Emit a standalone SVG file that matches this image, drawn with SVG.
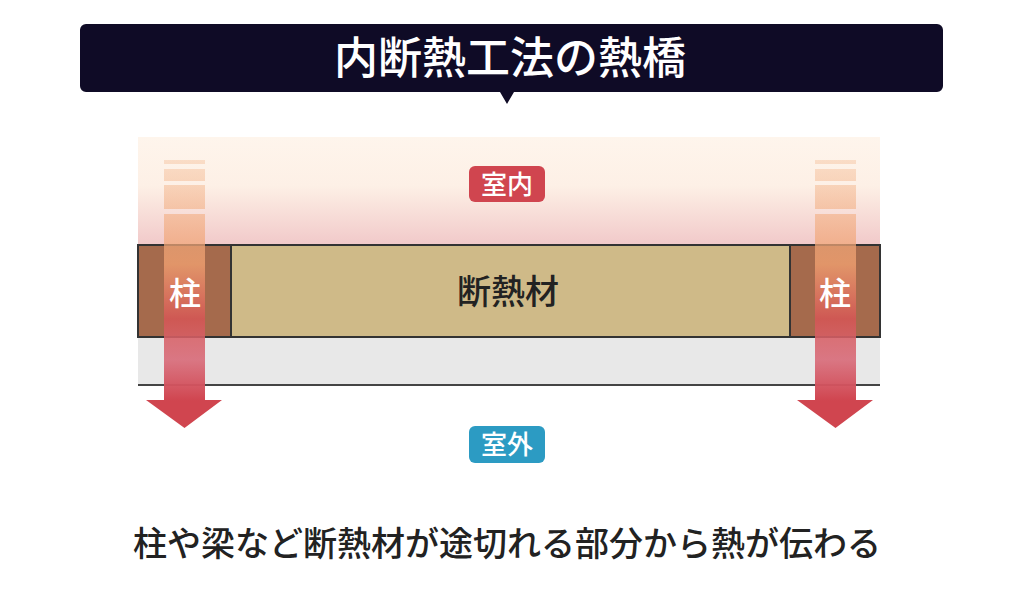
<svg xmlns="http://www.w3.org/2000/svg" width="1024" height="597" viewBox="0 0 1024 597">
<style>
.t{font-family:"Noto Sans CJK JP",sans-serif;font-weight:500}
.w{fill:#fff}
</style>
<defs>
<linearGradient id="bg" x1="0" y1="0" x2="0" y2="1">
<stop offset="0" stop-color="#fef5ec"/><stop offset="0.45" stop-color="#fdf0e6"/><stop offset="1" stop-color="#f1c9c9"/>
</linearGradient>
<linearGradient id="ar" gradientUnits="userSpaceOnUse" x1="0" y1="155" x2="0" y2="428">
<stop offset="0" stop-color="#f5bf98" stop-opacity="0.4"/><stop offset="0.4" stop-color="#f0a070" stop-opacity="0.8"/><stop offset="0.6" stop-color="#d65555" stop-opacity="0.85"/><stop offset="0.75" stop-color="#d86a78" stop-opacity="0.9"/><stop offset="0.9" stop-color="#d0454f"/><stop offset="1" stop-color="#d0454f"/>
</linearGradient>
<g id="arrow">
<rect x="0" y="160" width="41" height="4"/>
<rect x="0" y="169" width="41" height="12"/>
<rect x="0" y="185" width="41" height="24"/>
<path d="M0 214H41V400H58L20.5 428L-18 400H0Z"/>
</g>
</defs>
<g id="title">
<path d="M86 24H937a6 6 0 0 1 6 6V86a6 6 0 0 1-6 6H514L507 104L500 92H86a6 6 0 0 1-6-6V30a6 6 0 0 1 6-6Z" fill="#0f0b26"/>
<text x="510" y="74" text-anchor="middle" font-size="44" class="t w">内断熱工法の熱橋</text>
</g>
<g id="wall">
<rect x="138" y="137" width="742" height="108" fill="url(#bg)"/>
<rect x="138" y="337" width="742" height="48" fill="#e8e8e8"/>
<line x1="138" y1="385" x2="880" y2="385" stroke="#444" stroke-width="2"/>
<rect x="138" y="245" width="742" height="92" fill="#cfba88" stroke="#333" stroke-width="2"/>
<rect x="138" y="245" width="93" height="92" fill="#a56a4c" stroke="#333" stroke-width="2"/>
<rect x="790" y="245" width="90" height="92" fill="#a56a4c" stroke="#333" stroke-width="2"/>
<text x="508" y="304" text-anchor="middle" font-size="34" class="t" fill="#222">断熱材</text>
</g>
<g id="connectors" fill="url(#ar)">
<use href="#arrow" x="164"/>
<use href="#arrow" x="815"/>
</g>
<g id="labels">
<text x="185" y="305" text-anchor="middle" font-size="32" class="t w">柱</text>
<text x="835" y="305" text-anchor="middle" font-size="32" class="t w">柱</text>
<rect x="469" y="166" width="76" height="36" rx="6" fill="#d0454f"/>
<text x="507" y="194" text-anchor="middle" font-size="26" class="t w">室内</text>
<rect x="469" y="426" width="76" height="37" rx="6" fill="#2c9bc3"/>
<text x="507" y="454" text-anchor="middle" font-size="26" class="t w">室外</text>
<text x="507" y="556" text-anchor="middle" font-size="34" class="t" fill="#222">柱や梁など断熱材が途切れる部分から熱が伝わる</text>
</g>
</svg>
